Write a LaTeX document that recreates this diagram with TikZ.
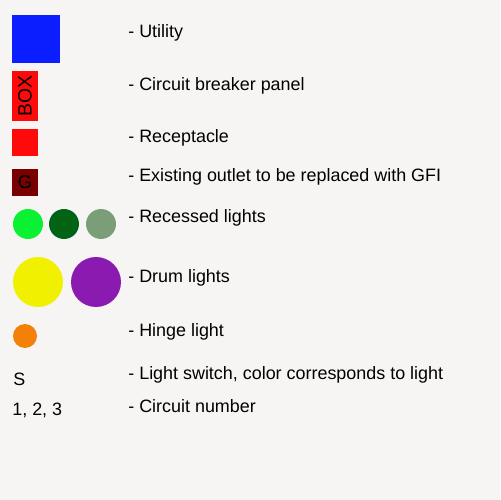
\documentclass[tikz,border=0pt]{standalone}
\usepackage{fontspec}
\setmainfont{Liberation Sans}
\usetikzlibrary{positioning}
\definecolor{bgcol}{RGB}{247,245,244}
\definecolor{utilblue}{RGB}{10,30,255}
\definecolor{boxred}{RGB}{255,10,10}
\definecolor{gfired}{RGB}{120,0,0}
\definecolor{lightgreen}{RGB}{10,240,50}
\definecolor{darkgreen}{RGB}{0,100,20}
\definecolor{greygreen}{RGB}{122,158,120}
\definecolor{drumyellow}{RGB}{240,240,0}
\definecolor{drumpurple}{RGB}{138,26,176}
\definecolor{hingeorange}{RGB}{245,128,8}
\tikzset{
  legend/.style={anchor=west, inner sep=0pt, font=\fontsize{10.2}{12}\selectfont},
  symb/.style={draw=none, inner sep=0pt, outer sep=0pt},
  lamp/.style={circle, draw=none, inner sep=0pt, minimum size=#1}
}
\begin{document}
\begin{tikzpicture}[x=0.02cm,y=-0.02cm]
      \fill[bgcol] (0,0) rectangle (500,500);
      \useasboundingbox (0,0) rectangle (500,500);
      % symbols
      \node[symb, fill=utilblue, minimum width=0.96cm, minimum height=0.96cm] (utility) at (36,39) {};
      \node[symb, fill=boxred, minimum width=0.52cm, minimum height=1cm] (panel) at (25,96) {};
      \node[legend, anchor=center, rotate=90, font=\fontsize{11}{12}\selectfont] (boxtxt) at (panel) {BOX};
      \node[symb, fill=boxred, minimum width=0.52cm, minimum height=0.54cm] (recep) at (25,142.5) {};
      \node[symb, fill=gfired, minimum width=0.52cm, minimum height=0.54cm, font=\fontsize{10.5}{12}\selectfont] (gfi) at (25,182.5) {G};
      \node[lamp=0.6cm, fill=lightgreen] (rec1) at (28,224) {};
      \node[lamp=0.6cm, fill=darkgreen] (rec2) at (64,224) {};
      \node[lamp=0.6cm, fill=greygreen] (rec3) at (101,224) {};
      \node[lamp=1cm, fill=drumyellow] (drum1) at (38,282) {};
      \node[lamp=1cm, fill=drumpurple] (drum2) at (96,282) {};
      \node[lamp=0.48cm, fill=hingeorange] (hinge) at (25,336) {};
      \node[legend] (switch) at (13,379) {S};
      \node[legend] (circnum) at (12,410) {1, 2, 3};
      % labels
      \node[legend] (lutil) at (128,33) {- Utility};
      \node[legend] (lpanel) at (128,86) {- Circuit breaker panel};
      \node[legend] (lrecep) at (128,138) {- Receptacle};
      \node[legend] (lgfi) at (128,177) {- Existing outlet to be replaced with GFI};
      \node[legend] (lrec) at (128,218) {- Recessed lights};
      \node[legend] (ldrum) at (128,278) {- Drum lights};
      \node[legend] (lhinge) at (128,332) {- Hinge light};
      \node[legend] (lswitch) at (128,375) {- Light switch, color corresponds to light};
      \node[legend] (lcirc) at (128,406) {- Circuit number};
    \end{tikzpicture}
\end{document}
